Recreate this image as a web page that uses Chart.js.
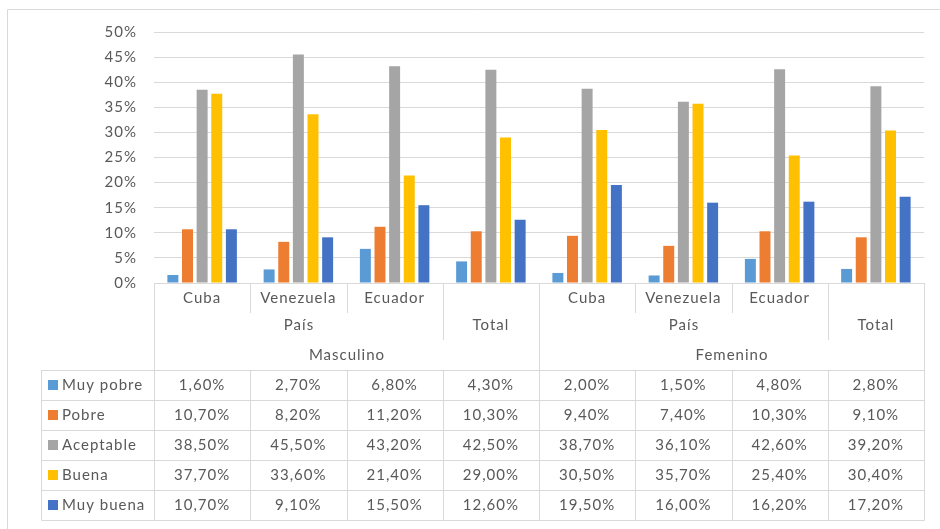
<!DOCTYPE html>
<html>
<head>
<meta charset="utf-8">
<script src="https://cdn.jsdelivr.net/npm/chart.js@4"></script>
<style>
body { margin: 0; background: #fff; }
#wrap { width: 940px; height: 529px; }
</style>
</head>
<body>
<div id="wrap"><canvas id="myChart" width="940" height="529"></canvas></div>
<script>
const countries = ["Cuba", "Venezuela", "Ecuador"];
const sexes = ["Masculino", "Femenino"];
const groupLabel = "País";
const totalLabel = "Total";
const categories = sexes.flatMap(s => [...countries, totalLabel]);

const seriesNames = ["Muy pobre", "Pobre", "Aceptable", "Buena", "Muy buena"];
const muyPobre = [1.6, 2.7, 6.8, 4.3, 2.0, 1.5, 4.8, 2.8];
const pobre = [10.7, 8.2, 11.2, 10.3, 9.4, 7.4, 10.3, 9.1];
const aceptable = [38.5, 45.5, 43.2, 42.5, 38.7, 36.1, 42.6, 39.2];
const buena = [37.7, 33.6, 21.4, 29.0, 30.5, 35.7, 25.4, 30.4];
const muyBuena = [10.7, 9.1, 15.5, 12.6, 19.5, 16.0, 16.2, 17.2];
const seriesColors = ["#5B9BD5", "#ED7D31", "#A5A5A5", "#FFC000", "#4472C4"];

const yMax = 50;
const yStep = 5;

const allSeries = [muyPobre, pobre, aceptable, buena, muyBuena];
const fmt = v => v.toFixed(2).replace(".", ",") + "%";

const textColor = "#595959";
const lineColor = "#d9d9d9";
const font = "15px Lato";
const spacing = "1px";

Chart.defaults.font.family = "Lato";
Chart.defaults.font.size = 15;
Chart.defaults.color = textColor;

// data table under the plot, drawn on the chart's own x scale
const dataTable = {
    id: "dataTable",
    beforeDraw(chart) {
        const ctx = chart.ctx;
        ctx.save();
        ctx.strokeStyle = lineColor;
        ctx.lineWidth = 1;
        ctx.beginPath();
        ctx.moveTo(7.5, chart.height);
        ctx.lineTo(7.5, 9.5);
        ctx.lineTo(chart.width, 9.5);
        ctx.stroke();
        ctx.restore();
        ctx.letterSpacing = spacing; // wider text, like the original
    },
    afterDraw(chart) {
        const ctx = chart.ctx;
        const xs = chart.scales.x;
        const area = chart.chartArea;
        const n = categories.length;
        const per = countries.length + 1;
        const w = (area.right - area.left) / n;
        const edge = i => Math.round(area.left + i * w) + 0.5;
        const top = Math.round(area.bottom);
        const rowH = 30;
        const bodyTop = top + 87;
        const bodyBottom = bodyTop + rowH * seriesNames.length;
        const legLeft = 41.5;

        ctx.save();
        ctx.letterSpacing = spacing;
        ctx.strokeStyle = lineColor;
        ctx.lineWidth = 1;
        ctx.beginPath();
        for (let r = 0; r <= seriesNames.length; r++) {
            const y = bodyTop + r * rowH + 0.5;
            ctx.moveTo(legLeft, y);
            ctx.lineTo(edge(n), y);
        }
        ctx.moveTo(legLeft, bodyTop);
        ctx.lineTo(legLeft, bodyBottom + 0.5);
        for (let i = 0; i <= n; i++) {
            let h = 30;
            if (i % per === 0) h = 87;
            else if (i % per === per - 1) h = 57;
            ctx.moveTo(edge(i), top);
            ctx.lineTo(edge(i), top + h);
            ctx.moveTo(edge(i), bodyTop);
            ctx.lineTo(edge(i), bodyBottom + 0.5);
        }
        ctx.stroke();

        ctx.fillStyle = textColor;
        ctx.font = font;
        ctx.textBaseline = "middle";
        ctx.textAlign = "center";
        sexes.forEach((s, b) => {
            const start = b * per;
            countries.forEach((c, k) => {
                ctx.fillText(c, xs.getPixelForValue(start + k), top + 15);
            });
            ctx.fillText(groupLabel, (edge(start) + edge(start + countries.length)) / 2, top + 42);
            ctx.fillText(totalLabel, xs.getPixelForValue(start + per - 1), top + 42);
            ctx.fillText(s, (edge(start) + edge(start + per)) / 2, top + 72);
        });

        seriesNames.forEach((name, r) => {
            const cy = bodyTop + r * rowH + 15;
            ctx.fillStyle = seriesColors[r];
            ctx.fillRect(48, cy - 5, 10, 10);
            ctx.fillStyle = textColor;
            ctx.textAlign = "left";
            ctx.fillText(name, 62, cy);
            ctx.textAlign = "center";
            allSeries[r].forEach((v, i) => {
                ctx.fillText(fmt(v), xs.getPixelForValue(i), cy);
            });
        });
        ctx.restore();
    }
};

new Chart("myChart", {
    type: "bar",
    data: {
        labels: categories,
        datasets: seriesNames.map((name, r) => ({
            label: name,
            data: allSeries[r],
            backgroundColor: seriesColors[r],
            categoryPercentage: 0.76,
            barPercentage: 0.75
        }))
    },
    options: {
        responsive: false,
        devicePixelRatio: 1,
        animation: false,
        layout: { padding: { left: 0, top: 32, right: 16, bottom: 246 } },
        plugins: {
            legend: { display: false },
            tooltip: { enabled: false }
        },
        scales: {
            x: { display: false },
            y: {
                min: 0,
                max: yMax,
                afterFit(scale) { scale.width = 154; },
                ticks: {
                    stepSize: yStep,
                    padding: 17,
                    color: textColor,
                    font: { size: 15 },
                    callback: v => v + "%"
                },
                grid: { color: lineColor, drawTicks: false },
                border: { display: false }
            }
        }
    },
    plugins: [dataTable]
});
</script>
</body>
</html>
